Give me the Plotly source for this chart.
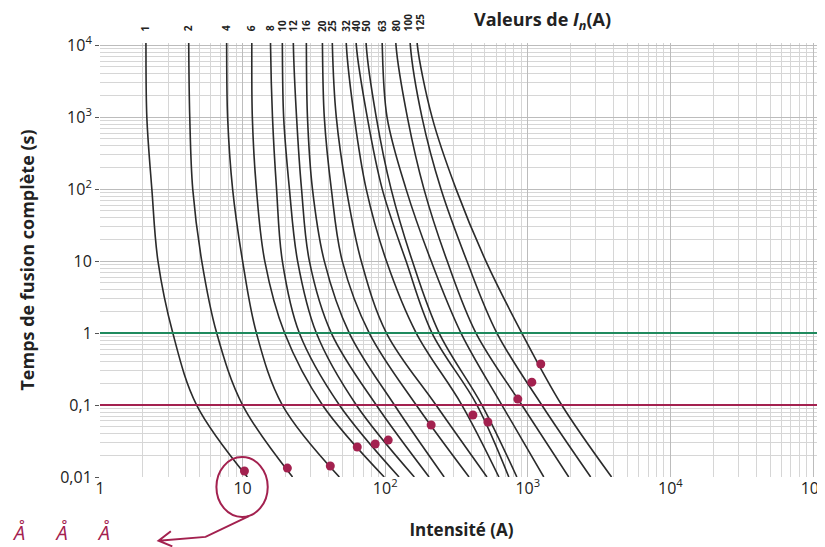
import math
import plotly.graph_objects as go

# Fuse ratings In (A)
calibres = [1, 2, 4, 6, 8, 10, 12, 16, 20, 25, 32, 40, 50, 63, 80, 100, 125]
# fusion times (s) at which currents were read
temps_s = [1.5e4, 1e4, 1e3, 1e2, 10, 1, 0.1, 0.01]
# current (A) for each rating at each time level (first value repeated to reach top)
courants_A = [
    [2.10, 2.10, 2.13, 2.31, 2.55, 3.24, 4.76, 10.8],
    [4.19, 4.19, 4.26, 4.47, 5.17, 6.58, 10.0, 22.4],
    [7.73, 7.73, 7.85, 8.51, 10.0, 12.5, 19.0, 47.7],
    [11.6, 11.6, 11.7, 12.5, 14.3, 19.7, 36.3, 98.4],
    [15.7, 15.7, 16.2, 17.3, 19.0, 25.0, 47.7, 125],
    [19.0, 19.0, 19.4, 21.3, 24.3, 32.9, 62.7, 160],
    [22.7, 22.7, 23.9, 25.9, 29.4, 41.9, 86.5, 203],
    [28.0, 28.0, 28.5, 30.9, 37.4, 56.0, 116, 259],
    [36.3, 36.3, 37.4, 41.9, 50.0, 77.3, 165, 387],
    [42.6, 42.6, 45.4, 53.4, 67.9, 102, 227, 517],
    [53.4, 53.4, 60.7, 73.6, 102, 165, 345, 627],
    [62.7, 62.7, 74.8, 95.3, 140, 213, 440, 736],
    [73.6, 73.6, 86.5, 110, 155, 239, 477, 838],
    [95.3, 95.3, 103, 140, 210, 340, 658, 1294],
    [119, 119, 143, 187, 272, 433, 908, 1936],
    [150, 150, 181, 246, 374, 607, 1253, 2759],
    [168, 168, 213, 314, 508, 908, 1729, 3866],
]

# hand-plotted points (A, s)
points_I = [10.3, 20.6, 41.2, 63.7, 85.1, 105, 210, 412, 525, 851, 1067, 1233]
points_t = [0.0121, 0.0133, 0.0142, 0.0261, 0.0287, 0.0326, 0.0528, 0.0727, 0.058, 0.121, 0.208, 0.371]

# reference lines (s)
ligne_verte = 1
ligne_rouge = 0.1

x_ticks = [1, 10, 100, 1000, 10000, 100000]
x_labels = ["1", "10", "10<sup>2</sup>", "10<sup>3</sup>", "10<sup>4</sup>", "10<sup>5</sup>"]
y_ticks = [0.01, 0.1, 1, 10, 100, 1000, 10000]
y_labels = ["0,01", "0,1", "1", "10", "10<sup>2</sup>", "10<sup>3</sup>", "10<sup>4</sup>"]

GREEN = "#1f8a5e"
CRIMSON = "#a3214f"
FONT = "Open Sans"

fig = go.Figure()

for cal, xs in zip(calibres, courants_A):
    fig.add_trace(go.Scatter(x=xs, y=temps_s, mode="lines",
                             line=dict(color="#2b2b2b", width=1.6, shape="spline", smoothing=1.0),
                             hoverinfo="skip", showlegend=False))

fig.add_trace(go.Scatter(x=[1, 1.3e5], y=[ligne_verte, ligne_verte], mode="lines",
                         line=dict(color=GREEN, width=2), showlegend=False))
fig.add_trace(go.Scatter(x=[1, 1.3e5], y=[ligne_rouge, ligne_rouge], mode="lines",
                         line=dict(color=CRIMSON, width=2), showlegend=False))

fig.add_trace(go.Scatter(x=points_I, y=points_t, mode="markers",
                         marker=dict(color=CRIMSON, size=9), showlegend=False))

# labels of ratings at top
label_shift = {100: -2, 125: 3}
for cal, xs in zip(calibres, courants_A):
    fig.add_annotation(x=math.log10(xs[1]), xref="x", y=1.022, yref="paper", text=f"<b>{cal}</b>",
                       textangle=-90, showarrow=False, xanchor="center", yanchor="bottom",
                       xshift=label_shift.get(cal, 0),
                       font=dict(family=FONT, size=10, color="#222"))

fig.add_annotation(x=0.612, xref="paper", y=1.052, yref="paper",
                   text="<b>Valeurs de <i>I</i><sub><i>n</i></sub>(A)</b>", showarrow=False,
                   xanchor="center", yanchor="middle", font=dict(family=FONT, size=18, color="#222"))

# hand annotation: circle around "10" and arrow to the notes
fig.add_shape(type="circle", xref="paper", yref="paper", x0=0.161, x1=0.232, y0=-0.092, y1=0.046,
              line=dict(color=CRIMSON, width=2))
fig.add_shape(type="path", xref="paper", yref="paper",
              path="M 0.206 -0.090 L 0.146 -0.138 L 0.081 -0.147 M 0.098 -0.125 L 0.081 -0.147 L 0.100 -0.160",
              line=dict(color=CRIMSON, width=2))
fig.add_annotation(x=-0.125, xref="paper", y=-0.128, yref="paper", text="<i>Å      Å      Å</i>",
                   showarrow=False, xanchor="left", yanchor="middle",
                   font=dict(family=FONT, size=20, color=CRIMSON))

fig.update_layout(
    width=825, height=547,
    margin=dict(l=92, r=8, t=35, b=78),
    paper_bgcolor="white", plot_bgcolor="white",
    font=dict(family=FONT, size=16, color="#222"),
    xaxis=dict(type="log", range=[0, 5.07], tickvals=x_ticks, ticktext=x_labels,
               tickfont=dict(size=16),
               showgrid=True, gridcolor="#bcbcbc", gridwidth=1,
               minor=dict(showgrid=True, gridcolor="#d6d6d6", dtick="D1"),
               zeroline=False, showline=False, ticks="",
               title=dict(text="<b>Intensité (A)</b>", font=dict(size=17), standoff=26)),
    yaxis=dict(type="log", range=[-2, 4.03], tickvals=y_ticks, ticktext=y_labels,
               tickfont=dict(size=16),
               showgrid=True, gridcolor="#bcbcbc", gridwidth=1,
               minor=dict(showgrid=True, gridcolor="#d6d6d6", dtick="D1"),
               zeroline=False, showline=False, ticks="outside", ticklen=4, tickcolor="#555",
               title=dict(text="<b>Temps de fusion complète (s)</b>", font=dict(size=18), standoff=20)),
)

fig.write_html("out.html")
